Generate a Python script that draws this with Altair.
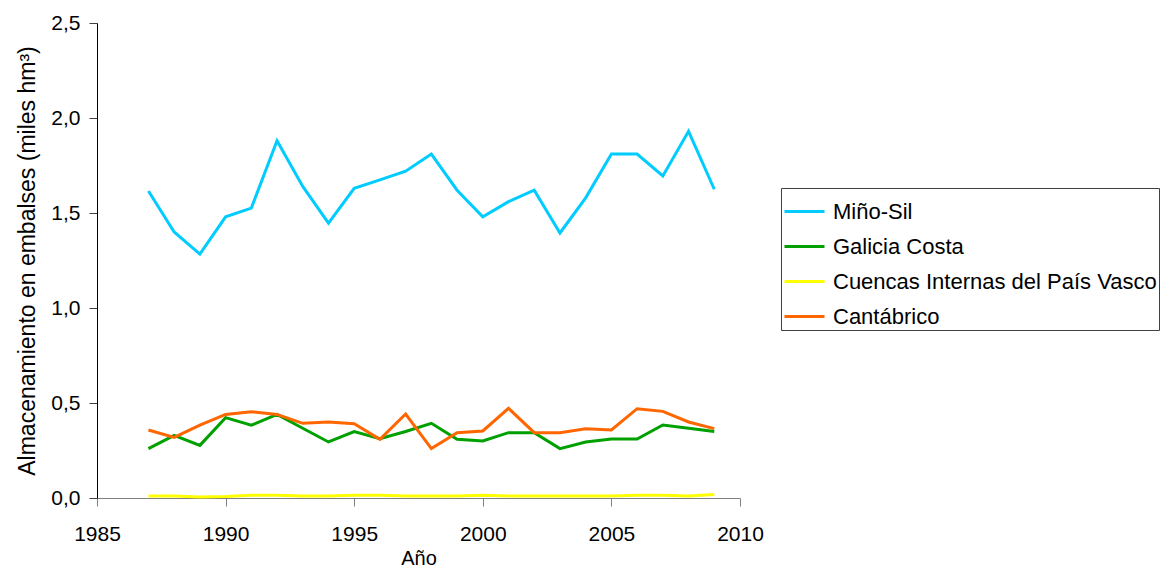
import altair as alt
import pandas as pd

years = list(range(1987, 2010))
series_names = ["Miño-Sil", "Galicia Costa", "Cuencas Internas del País Vasco", "Cantábrico"]
colors = ["#00CCFF", "#00A000", "#FFFF00", "#FF6600"]

mino_sil = [1.616, 1.40, 1.284, 1.48, 1.526, 1.88, 1.64, 1.447, 1.63, 1.674, 1.72, 1.81,
            1.62, 1.48, 1.56, 1.62, 1.395, 1.58, 1.81, 1.81, 1.695, 1.93, 1.625]
galicia = [0.26, 0.33, 0.277, 0.423, 0.383, 0.44, 0.367, 0.295, 0.35, 0.312, 0.35, 0.393,
           0.309, 0.30, 0.344, 0.344, 0.26, 0.295, 0.31, 0.31, 0.384, 0.367, 0.35]
pais_vasco = [0.01, 0.01, 0.005, 0.008, 0.015, 0.015, 0.01, 0.01, 0.015, 0.015, 0.01, 0.01,
              0.01, 0.015, 0.01, 0.01, 0.01, 0.01, 0.01, 0.015, 0.015, 0.01, 0.018]
cantabrico = [0.358, 0.319, 0.384, 0.44, 0.454, 0.44, 0.393, 0.40, 0.391, 0.309, 0.442, 0.26,
              0.344, 0.353, 0.472, 0.344, 0.344, 0.365, 0.358, 0.47, 0.456, 0.40, 0.365]

rows = []
for name, vals in zip(series_names, [mino_sil, galicia, pais_vasco, cantabrico]):
    for y, v in zip(years, vals):
        rows.append({"Año": y, "valor": v, "serie": name})
df = pd.DataFrame(rows)

FONT = "Liberation Sans"

chart = alt.Chart(df).mark_line(strokeWidth=3).encode(
    x=alt.X("Año:Q",
            scale=alt.Scale(domain=[1985, 2010], nice=False, zero=False),
            axis=alt.Axis(values=[1985, 1990, 1995, 2000, 2005, 2010], format="d",
                          title="Año", titleFontSize=20, titleFontWeight="normal",
                          titlePadding=4, labelFontSize=21, labelPadding=17,
                          labelFlush=False, labelOverlap=False,
                          tickSize=8, grid=False, domainColor="#808080", tickColor="#808080",
                          labelColor="black", titleColor="black", labelFont=FONT, titleFont=FONT)),
    y=alt.Y("valor:Q",
            scale=alt.Scale(domain=[0, 2.5], nice=False),
            axis=alt.Axis(values=[0, 0.5, 1.0, 1.5, 2.0, 2.5],
                          labelExpr="replace(format(datum.value, '.1f'), '.', ',')",
                          title="Almacenamiento en embalses (miles hm³)",
                          titleFontSize=23, titleFontWeight="normal", titlePadding=11,
                          labelFontSize=21, labelPadding=9, tickSize=8, grid=False,
                          labelFlush=False, labelOverlap=False,
                          domainColor="black", tickColor="#404040",
                          labelColor="black", titleColor="black", labelFont=FONT, titleFont=FONT)),
    color=alt.Color("serie:N",
                    scale=alt.Scale(domain=series_names, range=colors),
                    sort=series_names,
                    legend=alt.Legend(title=None, orient="none", legendX=684, legendY=165,
                                      symbolType="stroke", symbolSize=1600, symbolStrokeWidth=3,
                                      labelFontSize=22, labelFont=FONT, labelColor="black",
                                      labelOffset=7, rowPadding=2, padding=2,
                                      strokeColor="#404040", labelLimit=400)),
).properties(
    width=643, height=475,
    autosize=alt.AutoSizeParams(type="none"),
    padding={"left": 89, "top": 15, "right": 420, "bottom": 70},
).configure_view(stroke=None)

chart.save("out.html", embed_options={"renderer": "svg", "actions": False})
